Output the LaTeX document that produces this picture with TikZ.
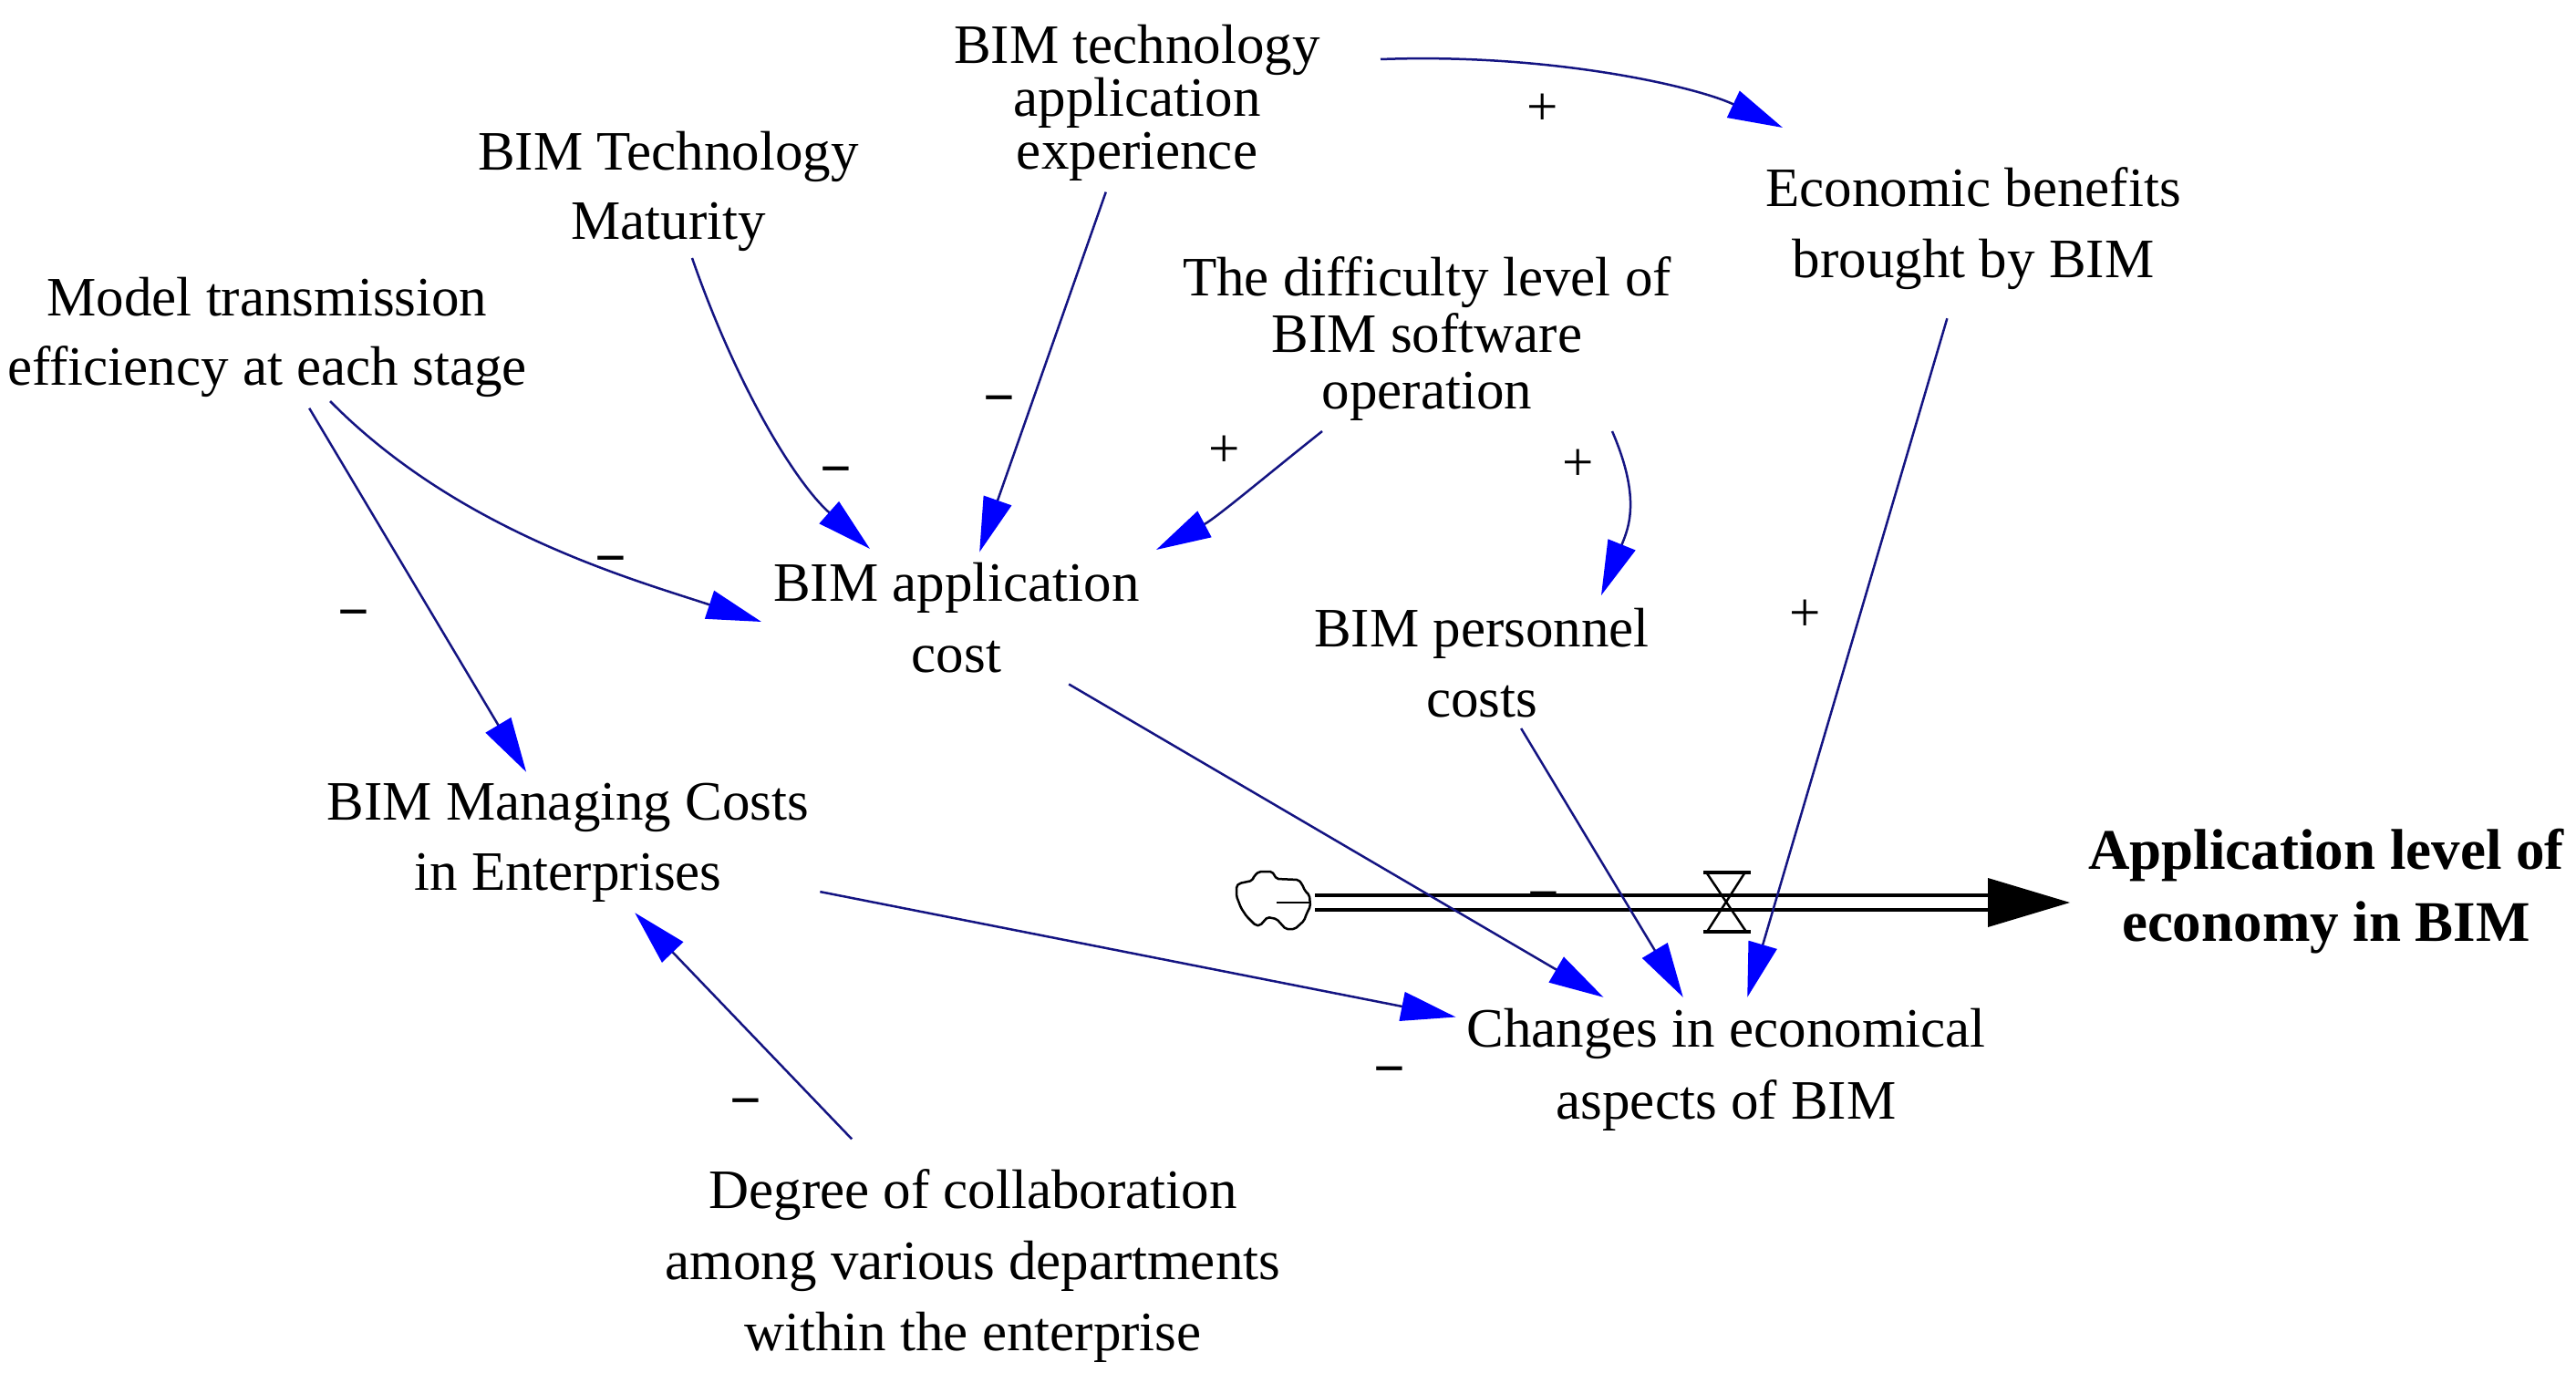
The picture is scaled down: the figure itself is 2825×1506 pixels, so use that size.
\documentclass[tikz,border=0pt]{standalone}
\usepackage{fontspec}
\setmainfont{Liberation Serif}
\usetikzlibrary{arrows.meta,calc}
\definecolor{linknavy}{RGB}{20,20,130}
\definecolor{headblue}{RGB}{0,0,255}
\begin{document}
\begin{tikzpicture}[x=1pt,y=-1pt,
  var/.style={font=\fontsize{61}{78}\selectfont, align=center, inner sep=0pt, outer sep=12pt},
  link/.style={draw=linknavy, line width=2.5pt, -{Triangle[length=60pt,width=32pt,color=headblue,fill=headblue]}},
  psgn/.style={font=\fontsize{61}{78}\selectfont, inner sep=0pt, anchor=base},
  msgn/.style={font=\bfseries\fontsize{61}{78}\selectfont, inner sep=0pt, anchor=base},
  pipeline/.style={draw=black, line width=3.5pt},
  thinblack/.style={draw=black, line width=2.5pt, line join=round}]
\useasboundingbox (0,0) rectangle (2825,1506);

% variables
\node[var, font=\fontsize{61}{58}\selectfont] (A) at (1247,113) {BIM technology\\application\\experience};
\node[var, font=\fontsize{61}{76}\selectfont] (B) at (733,210) {BIM Technology\\Maturity};
\node[var, font=\fontsize{61}{76}\selectfont] (C) at (293,370) {Model transmission\\efficiency at each stage};
\node[var, font=\fontsize{61}{62}\selectfont] (D) at (1565,372) {The difficulty level of\\BIM software\\operation};
\node[var] (E) at (2164,251) {Economic benefits\\brought by BIM};
\node[var] (F) at (1049,678) {BIM application\\cost};
\node[var, font=\fontsize{61}{77}\selectfont] (G) at (1625,727) {BIM personnel\\costs};
\node[var, font=\fontsize{61}{77}\selectfont] (H) at (623,924) {BIM Managing Costs\\in Enterprises};
\node[var, font=\fontsize{61}{79}\selectfont] (I) at (1893,1173) {Changes in economical\\aspects of BIM};
\node[var, font=\bfseries\fontsize{63}{79}\selectfont] (J) at (2551,978) {Application level of\\economy in BIM};
\node[var] (K) at (1067,1389) {Degree of collaboration\\among various departments\\within the enterprise};

% flow pipe
\coordinate (cloudR) at (1442,990);
\coordinate (pipeEnd) at (2180,990);
\coordinate (valve) at (1893,990);
\draw[pipeline] ([yshift=8pt]cloudR) -- ([yshift=8pt]pipeEnd);
\draw[pipeline] ([yshift=-8pt]cloudR) -- ([yshift=-8pt]pipeEnd);
\fill[black] (pipeEnd) ++(0,-27) -- ++(90,27) -- ++(-90,27) -- cycle;

% cloud (source)
\draw[thinblack, rounded corners=2pt] (1356,972) -- (1359,969) -- (1373,966) -- (1376,960) -- (1381,956) -- (1395,956) -- (1400,964) -- (1424,965) -- (1428,970) -- (1431,977) -- (1436,982) -- (1437,994) -- (1433,1002) -- (1430,1010) -- (1420,1019) -- (1410,1019) -- (1400,1008) -- (1390,1006) -- (1382,1015) -- (1377,1015) -- (1367,1005) -- (1361,996) -- (1356,983) -- cycle;
\draw[thinblack] (1400,990) -- (1437,990);

% valve
\begin{scope}[shift={(valve)}]
  \draw[black, line width=3.5pt] (-25,-33) -- (27,-33);
  \draw[black, line width=3.5pt] (-25,32) -- (27,32);
  \draw[thinblack] (-21,-32) -- (22,32);
  \draw[thinblack] (20,-32) -- (-21,32);
\end{scope}

% links
\draw[link] ($(A)+(267,-48)$) .. controls ($(A)+(453,-55)$) and ($(E)+(-304,-156)$) .. ($(E)+(-209,-111)$);
\draw[link] (A) -- (F);
\draw[link] ($(B)+(26,73)$) .. controls ($(B)+(75,214)$) and ($(F)+(-177,-149)$) .. ($(F)+(-95,-76)$);
\draw[link] ($(C)+(69,70)$) .. controls ($(C)+(209,212)$) and ($(F)+(-357,-43)$) .. ($(F)+(-214,4)$);
\draw[link] (C) -- (H);
\draw[link] ($(D)+(-115,101)$) .. controls ($(D)+(-173,147)$) and ($(F)+(285,-110)$) .. ($(F)+(219,-75)$);
\draw[link] ($(D)+(203,101)$) .. controls ($(D)+(235,175)$) and ($(G)+(161,-148)$) .. ($(G)+(131,-74)$);
\draw[link] (F) -- (I);
\draw[link] (G) -- (I);
\draw[link, shorten <=20pt] (E) -- (I);
\draw[link] (H) -- (I);
\draw[link, shorten <=30pt] (K) -- (H);

% polarity signs
\node[psgn] (p1) at (1692,138) {+};
\node[msgn] (m1) at (1096,456) {−};
\node[msgn] (m2) at (917,534) {−};
\node[psgn] (p2) at (1343,512) {+};
\node[psgn] (p3) at (1731,527) {+};
\node[msgn] (m3) at (670,632) {−};
\node[msgn] (m4) at (388,691) {−};
\node[psgn] (p4) at (1980,692) {+};
\node[msgn] (m5) at (818,1227) {−};
\node[msgn] (m6) at (1524,1192) {−};
\node[msgn] (m7) at (1693,1000) {−};
\end{tikzpicture}
\end{document}
